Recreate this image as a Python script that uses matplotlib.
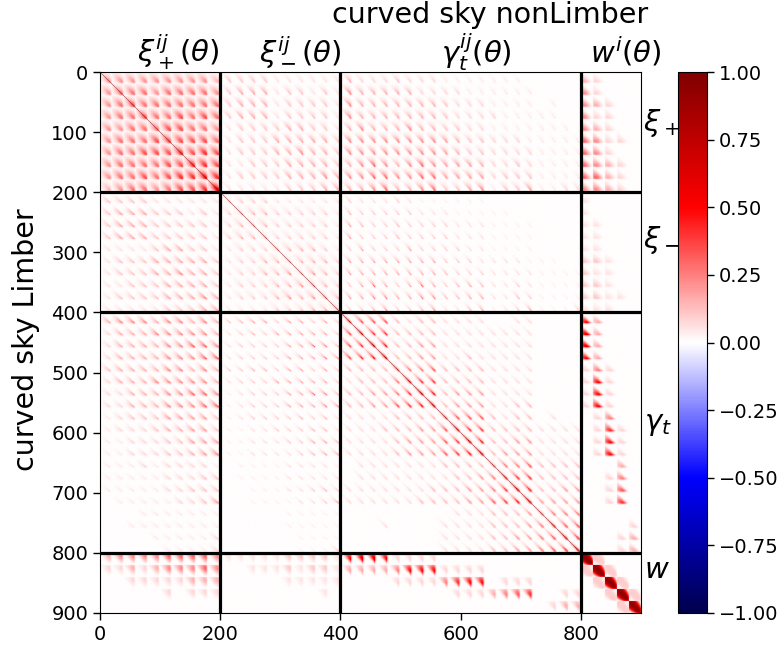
import numpy as np
import matplotlib
matplotlib.use("Agg")
import matplotlib.pyplot as plt

# Peak correlation of each tomographic sub-block, in tenths
AMP_PP = ["3333333332","3444344443","3454444444","3445445454","3344455443",
          "3444555554","3445556565","3444455665","3445456676","2344345568"]
AMP_PM = ["2222111111","2333122121","2333122221","2333122221","1222233221",
          "1222333332","1222334332","1122233332","1222233343","1111122233"]
AMP_MM = ["2222111111","2333222221","2333222221","2333222221","1222333321",
          "1223333332","1223343432","1222334432","1222343443","1111222334"]
# These two are in twentieths
AMP_PG = ["42223222111111100000","64444422221111110000","64444444322211110100",
          "64444444322221111100","46444644332211111110","66666666543322211111",
          "66666666543322221111","46864686555422321111","66886688555523331111",
          "44684468335613351122"]
AMP_MG = ["32223211111100000000","43333322211111000000","54334333322211110000",
          "53334333322211110000","35333533332211110000","55555555333222211100",
          "55555555433322221111","35853585345422321111","55775577445522431111",
          "33463346224512351113"]
AMP_PW = ["21000","31000","32100","31100","32100","43110","43100","43210","44210","33210"]
AMP_MW = ["10000","10000","11000","11000","11000","22100","21100","22100","22110","11100"]
AMP_GG = ["65552122111100110000","57662222111111110000","56872233111111110000",
          "56782233112111110000","22225445222211110000","12224766222211110000",
          "22334687233311110000","22335678233311220000","11112222555521220100",
          "11122233576622221111","11112333568722331111","11112333567823331111",
          "01111111222244452222","01111111122346662222","11111112223346872233",
          "11111122223356783333","00000000011122234444","00010000111122234655",
          "00000000111122334576","00000000111122334568"]
AMP_GW = ["62000","72000","72000","62000","13100","16100","16100","16100",
          "01300","01510","01610","01610","00020","00130","00140","00150",
          "00000","00001","00012","00012"]
AMP_WW = ["91000","19100","01910","00191","00019"]

# Shape of a sub-block (rows: theta of row bin, columns: theta of column bin)
KERNEL_PP = [[.12,.14,.14,.14,.13,.12,.10,.08,.06,.04],
             [.14,.20,.22,.22,.20,.18,.15,.12,.09,.05],
             [.14,.22,.30,.33,.33,.30,.25,.20,.14,.07],
             [.14,.22,.33,.42,.46,.45,.38,.30,.20,.09],
             [.13,.20,.33,.46,.56,.60,.54,.42,.28,.12],
             [.12,.18,.30,.45,.60,.72,.75,.62,.42,.16],
             [.10,.15,.25,.38,.54,.75,.88,.88,.62,.20],
             [.08,.12,.20,.30,.42,.62,.88,.98,.88,.26],
             [.06,.09,.14,.20,.28,.42,.62,.88,1.0,.30],
             [.04,.05,.07,.09,.12,.16,.20,.26,.30,.12]]
KERNEL_PM = [[.05,.07,.08,.08,.08,.07,.06,.05,.03,.02],
             [.01,.10,.14,.15,.15,.13,.11,.08,.05,.02],
             [.00,.03,.17,.23,.25,.23,.18,.13,.08,.03],
             [.00,.00,.05,.28,.36,.35,.28,.20,.12,.04],
             [.00,.00,.00,.08,.42,.50,.43,.30,.18,.06],
             [.00,.00,.00,.00,.10,.58,.62,.47,.27,.08],
             [.00,.00,.00,.00,.00,.12,.75,.72,.44,.12],
             [.00,.00,.00,.00,.00,.00,.15,.92,.70,.16],
             [.00,.00,.00,.00,.00,-.03,-.03,.22,1.0,.20],
             [.00,.00,.00,.00,-.05,-.08,-.08,-.05,.12,.10]]
KERNEL_MM = [[.08,.08,.08,.06,.05,.04,.03,.02,.02,.01],
             [.08,.12,.12,.10,.08,.06,.05,.04,.03,.02],
             [.08,.12,.16,.15,.12,.09,.07,.05,.04,.03],
             [.06,.10,.15,.20,.18,.14,.10,.07,.05,.03],
             [.05,.08,.12,.18,.26,.22,.15,.10,.06,.04],
             [.04,.06,.09,.14,.22,.36,.28,.16,.08,.05],
             [.03,.05,.07,.10,.15,.28,.52,.34,.14,.06],
             [.02,.04,.05,.07,.10,.16,.34,.80,.38,.10],
             [.02,.03,.04,.05,.06,.08,.14,.38,1.0,.18],
             [.01,.02,.03,.03,.04,.05,.06,.10,.18,.15]]
KERNEL_PG = [[.05,.07,.07,.07,.07,.06,.05,.04,.03,.02],
             [.00,.09,.12,.13,.13,.11,.09,.07,.05,.02],
             [.00,.00,.15,.19,.21,.20,.16,.12,.08,.03],
             [.00,.00,.02,.24,.30,.31,.27,.20,.13,.05],
             [.00,.00,.00,.05,.36,.44,.40,.31,.19,.06],
             [.00,.00,.00,.00,.08,.50,.58,.48,.32,.09],
             [.00,.00,.00,.00,.00,.10,.66,.72,.50,.13],
             [.00,.00,.00,.00,.00,.00,.12,.86,.78,.18],
             [.00,.00,.00,.00,.00,.00,-.02,.20,1.0,.25],
             [.00,.00,.00,.00,-.03,-.05,-.05,-.03,.10,.10]]
KERNEL_MG = [[.03,.04,.04,.03,.03,.02,.02,.01,.00,.00],
             [.00,.05,.07,.07,.06,.05,.03,.02,.01,.00],
             [.00,.00,.08,.11,.10,.08,.05,.03,.02,.00],
             [.00,.00,.00,.13,.16,.14,.09,.05,.03,.01],
             [.00,.00,.00,.00,.22,.24,.17,.09,.04,.01],
             [.00,.00,.00,.00,.00,.32,.34,.20,.08,.02],
             [.00,.00,.00,.00,.00,.00,.52,.40,.14,.03],
             [.00,.00,.00,.00,.00,.00,.02,.82,.36,.05],
             [.00,.00,.00,.00,.00,.00,.00,.05,1.0,.10],
             [.00,.00,.00,.00,.00,-.03,-.03,-.02,.06,.06]]
KERNEL_GG = [[.14,.08,.04,.02,.01,.00,.00,.00,.00,.00],
             [.08,.18,.10,.05,.02,.01,.00,.00,.00,.00],
             [.04,.10,.22,.14,.06,.02,.01,.00,.00,.00],
             [.02,.05,.14,.30,.18,.08,.03,.01,.00,.00],
             [.01,.02,.06,.18,.40,.24,.10,.03,.01,.00],
             [.00,.01,.02,.08,.24,.55,.30,.10,.03,.01],
             [.00,.00,.01,.03,.10,.30,.72,.38,.10,.02],
             [.00,.00,.00,.01,.03,.10,.38,.90,.40,.06],
             [.00,.00,.00,.00,.01,.03,.10,.40,1.0,.14],
             [.00,.00,.00,.00,.00,.01,.02,.06,.14,.25]]
KERNEL_XW = [[.10,.05,.02,.00,.00,.00,.00,.00,.00,.00],
             [.20,.18,.10,.03,.00,.00,.00,.00,.00,.00],
             [.30,.30,.22,.12,.04,.00,.00,.00,.00,.00],
             [.38,.42,.36,.26,.14,.05,.01,.00,.00,.00],
             [.48,.55,.52,.42,.28,.16,.06,.01,.00,.00],
             [.58,.68,.68,.60,.46,.30,.16,.06,.01,.00],
             [.68,.80,.85,.78,.62,.46,.30,.16,.05,.00],
             [.72,.90,1.0,.92,.78,.60,.44,.28,.12,.01],
             [.55,.72,.82,.80,.70,.56,.42,.28,.12,-.02],
             [.10,.15,.18,.18,.16,.13,.10,.06,.02,.00]]
KERNEL_GW = [[.03,.00,.00,.00,.00,.00,.00,.00,.00,.00],
             [.10,.06,.00,.00,.00,.00,.00,.00,.00,.00],
             [.18,.16,.08,.00,.00,.00,.00,.00,.00,.00],
             [.26,.28,.20,.10,.02,.00,.00,.00,.00,.00],
             [.32,.40,.38,.28,.14,.03,.00,.00,.00,.00],
             [.38,.52,.58,.50,.34,.16,.03,.00,.00,.00],
             [.42,.60,.72,.74,.60,.38,.18,.03,.00,.00],
             [.45,.62,.78,.88,.88,.72,.45,.20,.04,.00],
             [.35,.50,.70,.85,1.0,.95,.78,.50,.16,-.05],
             [.08,.12,.15,.18,.20,.18,.14,.08,.02,-.03]]
KERNEL_WW = [[.85,.98,.98,.90,.78,.65,.42,.25,.10,.02],
             [.98,1.0,1.0,1.0,.92,.78,.62,.38,.18,.05],
             [.98,1.0,1.0,1.0,1.0,.92,.78,.58,.32,.10],
             [.90,1.0,1.0,1.0,1.0,1.0,.92,.75,.48,.20],
             [.78,.92,1.0,1.0,1.0,1.0,1.0,.90,.65,.32],
             [.65,.78,.92,1.0,1.0,1.0,1.0,1.0,.82,.45],
             [.42,.62,.78,.92,1.0,1.0,1.0,1.0,.95,.60],
             [.25,.38,.58,.75,.90,1.0,1.0,1.0,1.0,.72],
             [.10,.18,.32,.48,.65,.82,.95,1.0,.98,.70],
             [.02,.05,.10,.20,.32,.45,.60,.72,.70,.60]]

BLOCK_TICKS_X = [0, 200, 400, 600, 800]
BLOCK_TICKS_Y = [0, 100, 200, 300, 400, 500, 600, 700, 800, 900]
BLOCK_LINES = [200, 400, 800]
CBAR_TICKS = [-1.0, -0.75, -0.5, -0.25, 0.0, 0.25, 0.5, 0.75, 1.0]


def amp(table):
    return np.array([[int(c) for c in row] for row in table], float) / 10.0


CELL = 20
M = np.zeros((900, 900))


def put(table, kernel, r0, c0, scale=1.0):
    a = amp(table) * scale
    k = np.kron(np.array(kernel), np.ones((2, 2)))
    for r in range(a.shape[0]):
        for c in range(a.shape[1]):
            rr, cc = r0 + r * CELL, c0 + c * CELL
            M[rr:rr + CELL, cc:cc + CELL] = a[r, c] * k
            if r0 != c0:
                M[cc:cc + CELL, rr:rr + CELL] = a[r, c] * k.T


put(AMP_PP, KERNEL_PP, 0, 0, 0.72)
put(AMP_PM, KERNEL_PM, 0, 200, 0.6)
put(AMP_MM, KERNEL_MM, 200, 200, 0.65)
put(AMP_PG, KERNEL_PG, 0, 400, 0.42)
put(AMP_MG, KERNEL_MG, 200, 400, 0.42)
put(AMP_PW, KERNEL_XW, 0, 800, 0.8)
put(AMP_MW, KERNEL_XW, 200, 800, 0.55)
put(AMP_GG, KERNEL_GG, 400, 400, 0.8)
put(AMP_GW, KERNEL_GW, 400, 800, 0.85)
put(AMP_WW, KERNEL_WW, 800, 800, 1.0)
np.fill_diagonal(M, 1.0)

plt.rcParams["mathtext.fontset"] = "dejavusans"
W, H = 782, 652
fig = plt.figure(figsize=(W / 100, H / 100), dpi=100)
ax = fig.add_axes([100 / W, 1 - 613 / H, 541 / W, 541 / H])
im = ax.imshow(M, cmap="seismic", vmin=-1, vmax=1, aspect="auto",
               extent=(0, 900, 900, 0), interpolation="antialiased")
for v in BLOCK_LINES:
    ax.axhline(v, color="k", lw=2.3)
    ax.axvline(v, color="k", lw=2.3)
ax.set_xticks(BLOCK_TICKS_X)
ax.set_yticks(BLOCK_TICKS_Y)
ax.tick_params(labelsize=14, length=5, width=1)
ax.set_xlim(0, 900)
ax.set_ylim(900, 0)

cax = fig.add_axes([678 / W, 1 - 613 / H, 29 / W, 541 / H])
cb = fig.colorbar(im, cax=cax)
cb.set_ticks(CBAR_TICKS)
cb.ax.set_yticklabels([f"{t:.2f}".replace("-", "\u2212") for t in CBAR_TICKS])
cb.ax.tick_params(labelsize=14, length=5, width=1)

fig.text(26 / W, 1 - 340 / H, "curved sky Limber", rotation=90, fontsize=20.5,
         ha="center", va="center")
fig.text(490 / W, 1 - 15 / H, "curved sky nonLimber", fontsize=20.5,
         ha="center", va="center")

tops = [("$\\xi^{ij}_+(\\theta)$", 178), ("$\\xi^{ij}_-(\\theta)$", 300),
        ("$\\gamma^{ij}_t(\\theta)$", 476), ("$w^i(\\theta)$", 626)]
for s, x in tops:
    fig.text(x / W, 1 - 52 / H, s, fontsize=21, ha="center", va="center")
sides = [("$\\xi_+$", 662, 123), ("$\\xi_-$", 662, 240), ("$\\gamma_t$", 658, 424),
         ("$w$", 657, 570)]
for s, x, y in sides:
    fig.text(x / W, 1 - y / H, s, fontsize=21, ha="center", va="center")

fig.savefig("out.png", dpi=100)
